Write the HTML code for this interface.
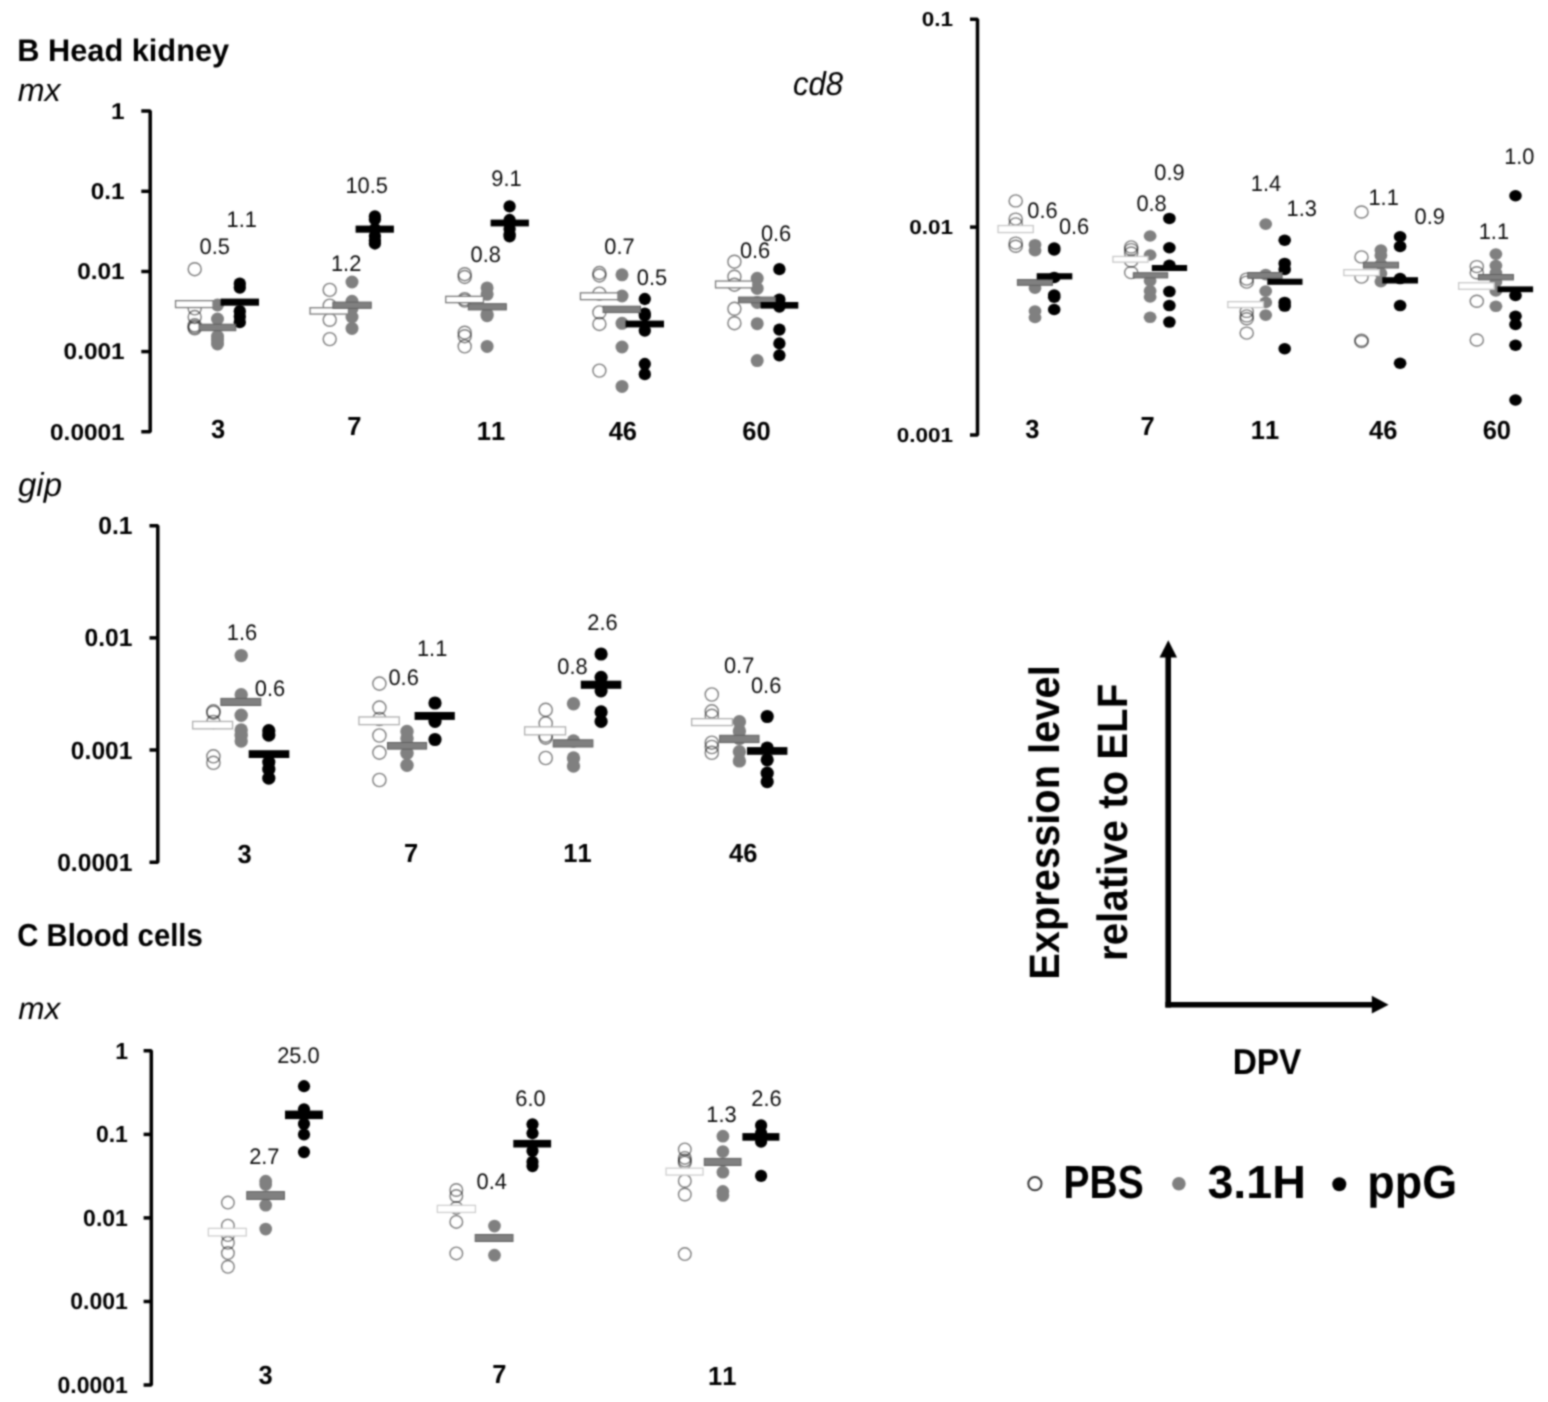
<!DOCTYPE html>
<html><head><meta charset="utf-8"><title>Figure</title>
<style>
html,body{margin:0;padding:0;background:#fff;}
body{width:1548px;height:1402px;overflow:hidden;}
svg{display:block;}
#fig{position:absolute;left:0;top:0;width:1548px;height:1402px;}
text{font-family:"Liberation Sans",Arial,sans-serif;font-kerning:none;text-rendering:geometricPrecision;}
</style></head><body>
<div id="fig"><svg width="1548" height="1402" viewBox="0 0 1548 1402">
<defs><filter id="soft" color-interpolation-filters="sRGB" x="0" y="0" width="1548" height="1402" filterUnits="userSpaceOnUse"><feConvolveMatrix order="5" kernelMatrix="0.00048 0.00501 0.01095 0.00501 0.00048 0.00501 0.05222 0.11405 0.05222 0.00501 0.01095 0.11405 0.24912 0.11405 0.01095 0.00501 0.05222 0.11405 0.05222 0.00501 0.00048 0.00501 0.01095 0.00501 0.00048" divisor="1" edgeMode="duplicate" preserveAlpha="true"/></filter></defs>
<g filter="url(#soft)">
<rect width="1548" height="1402" fill="#fff"/>
<path d="M141.3,111.0 H150.2 V431.7 H141.3" fill="none" stroke="#000" stroke-width="3.5" stroke-linejoin="bevel"/>
<line x1="141.3" y1="191.3" x2="150.2" y2="191.3" stroke="#000" stroke-width="3.5"/>
<line x1="141.3" y1="271.5" x2="150.2" y2="271.5" stroke="#000" stroke-width="3.5"/>
<line x1="141.3" y1="351.6" x2="150.2" y2="351.6" stroke="#000" stroke-width="3.5"/>
<text transform="translate(111.11,118.87) scale(1.0666,1)" font-size="22.88" font-weight="bold" font-style="normal" fill="#000">1</text>
<text transform="translate(90.75,199.18) scale(1.0666,1)" font-size="22.88" font-weight="bold" font-style="normal" fill="#000">0.1</text>
<text transform="translate(77.18,279.38) scale(1.0666,1)" font-size="22.88" font-weight="bold" font-style="normal" fill="#000">0.01</text>
<text transform="translate(63.61,359.48) scale(1.0666,1)" font-size="22.88" font-weight="bold" font-style="normal" fill="#000">0.001</text>
<text transform="translate(50.03,439.58) scale(1.0666,1)" font-size="22.88" font-weight="bold" font-style="normal" fill="#000">0.0001</text>
<circle cx="194.7" cy="269.2" r="6.50" fill="none" stroke="#000000" stroke-opacity="0.5" stroke-width="1.4"/>
<circle cx="194.7" cy="308.4" r="6.50" fill="none" stroke="#000000" stroke-opacity="0.5" stroke-width="1.4"/>
<circle cx="194.7" cy="317" r="6.50" fill="none" stroke="#000000" stroke-opacity="0.5" stroke-width="1.4"/>
<circle cx="194.7" cy="325.3" r="6.50" fill="none" stroke="#000000" stroke-opacity="0.5" stroke-width="1.4"/>
<circle cx="194.7" cy="327" r="6.50" fill="none" stroke="#000000" stroke-opacity="0.5" stroke-width="1.4"/>
<circle cx="194.7" cy="328.4" r="6.50" fill="none" stroke="#000000" stroke-opacity="0.5" stroke-width="1.4"/>
<circle cx="217.5" cy="305" r="6.50" fill="#808080"/>
<circle cx="217.5" cy="319" r="6.50" fill="#808080"/>
<circle cx="217.5" cy="336.3" r="6.50" fill="#808080"/>
<circle cx="217.5" cy="340" r="6.50" fill="#808080"/>
<circle cx="217.5" cy="344" r="6.50" fill="#808080"/>
<circle cx="239.8" cy="283.7" r="6.15" fill="#000"/>
<circle cx="239.8" cy="287.6" r="6.15" fill="#000"/>
<circle cx="239.8" cy="311.2" r="6.15" fill="#000"/>
<circle cx="239.8" cy="316.5" r="6.15" fill="#000"/>
<circle cx="239.8" cy="322.2" r="6.15" fill="#000"/>
<rect x="175.55" y="300.65" width="37.50" height="6.90" fill="#fff" stroke="#7c7c7c" stroke-width="1.3"/>
<rect x="199.10" y="324.20" width="36.70" height="6.50" fill="#808080" stroke="#606060" stroke-width="1"/>
<rect x="220.60" y="298.60" width="38.40" height="7.10" fill="#000"/>
<text transform="translate(199.56,253.70) scale(0.9700,1)" font-size="22.50" font-weight="normal" font-style="normal" fill="#0d0d0d">0.5</text>
<text transform="translate(226.53,227.30) scale(0.9700,1)" font-size="22.50" font-weight="normal" font-style="normal" fill="#0d0d0d">1.1</text>
<circle cx="329.7" cy="289.9" r="6.50" fill="none" stroke="#000000" stroke-opacity="0.5" stroke-width="1.4"/>
<circle cx="329.7" cy="305.6" r="6.50" fill="none" stroke="#000000" stroke-opacity="0.5" stroke-width="1.4"/>
<circle cx="329.7" cy="319.8" r="6.50" fill="none" stroke="#000000" stroke-opacity="0.5" stroke-width="1.4"/>
<circle cx="329.7" cy="339.1" r="6.50" fill="none" stroke="#000000" stroke-opacity="0.5" stroke-width="1.4"/>
<circle cx="352" cy="282" r="6.50" fill="#808080"/>
<circle cx="352" cy="301.3" r="6.50" fill="#808080"/>
<circle cx="352" cy="308.4" r="6.50" fill="#808080"/>
<circle cx="352" cy="317" r="6.50" fill="#808080"/>
<circle cx="352" cy="328.4" r="6.50" fill="#808080"/>
<circle cx="374.9" cy="216.4" r="6.15" fill="#000"/>
<circle cx="374.9" cy="219.2" r="6.15" fill="#000"/>
<circle cx="374.9" cy="229" r="6.15" fill="#000"/>
<circle cx="374.9" cy="236" r="6.15" fill="#000"/>
<circle cx="374.9" cy="240.6" r="6.15" fill="#000"/>
<circle cx="374.9" cy="243.5" r="6.15" fill="#000"/>
<rect x="310.05" y="307.75" width="38.40" height="6.30" fill="#fff" stroke="#7c7c7c" stroke-width="1.3"/>
<rect x="332.90" y="302.10" width="38.30" height="6.20" fill="#808080" stroke="#606060" stroke-width="1"/>
<rect x="355.60" y="225.60" width="38.30" height="7.10" fill="#000"/>
<text transform="translate(345.39,192.80) scale(0.9700,1)" font-size="22.50" font-weight="normal" font-style="normal" fill="#0d0d0d">10.5</text>
<text transform="translate(330.95,270.80) scale(0.9700,1)" font-size="22.50" font-weight="normal" font-style="normal" fill="#0d0d0d">1.2</text>
<circle cx="464.7" cy="274.2" r="6.50" fill="none" stroke="#000000" stroke-opacity="0.5" stroke-width="1.4"/>
<circle cx="464.7" cy="277" r="6.50" fill="none" stroke="#000000" stroke-opacity="0.5" stroke-width="1.4"/>
<circle cx="464.7" cy="299.1" r="6.50" fill="none" stroke="#000000" stroke-opacity="0.5" stroke-width="1.4"/>
<circle cx="464.7" cy="300.6" r="6.50" fill="none" stroke="#000000" stroke-opacity="0.5" stroke-width="1.4"/>
<circle cx="464.7" cy="332.7" r="6.50" fill="none" stroke="#000000" stroke-opacity="0.5" stroke-width="1.4"/>
<circle cx="464.7" cy="336.2" r="6.50" fill="none" stroke="#000000" stroke-opacity="0.5" stroke-width="1.4"/>
<circle cx="464.7" cy="346.4" r="6.50" fill="none" stroke="#000000" stroke-opacity="0.5" stroke-width="1.4"/>
<circle cx="487.1" cy="287.9" r="6.50" fill="#808080"/>
<circle cx="487.1" cy="294.3" r="6.50" fill="#808080"/>
<circle cx="487.1" cy="314.3" r="6.50" fill="#808080"/>
<circle cx="487.1" cy="315.7" r="6.50" fill="#808080"/>
<circle cx="487.1" cy="346.4" r="6.50" fill="#808080"/>
<circle cx="509.6" cy="206.4" r="6.15" fill="#000"/>
<circle cx="509.6" cy="220" r="6.15" fill="#000"/>
<circle cx="509.6" cy="222.8" r="6.15" fill="#000"/>
<circle cx="509.6" cy="229" r="6.15" fill="#000"/>
<circle cx="509.6" cy="234.3" r="6.15" fill="#000"/>
<circle cx="509.6" cy="236.4" r="6.15" fill="#000"/>
<rect x="445.75" y="296.35" width="37.70" height="6.30" fill="#fff" stroke="#7c7c7c" stroke-width="1.3"/>
<rect x="468.30" y="303.70" width="38.00" height="6.20" fill="#808080" stroke="#606060" stroke-width="1"/>
<rect x="490.60" y="219.60" width="38.30" height="6.80" fill="#000"/>
<text transform="translate(491.25,186.20) scale(0.9700,1)" font-size="22.50" font-weight="normal" font-style="normal" fill="#0d0d0d">9.1</text>
<text transform="translate(470.58,261.80) scale(0.9700,1)" font-size="22.50" font-weight="normal" font-style="normal" fill="#0d0d0d">0.8</text>
<circle cx="599.4" cy="273" r="6.50" fill="none" stroke="#000000" stroke-opacity="0.5" stroke-width="1.4"/>
<circle cx="599.4" cy="275.5" r="6.50" fill="none" stroke="#000000" stroke-opacity="0.5" stroke-width="1.4"/>
<circle cx="599.4" cy="293.6" r="6.50" fill="none" stroke="#000000" stroke-opacity="0.5" stroke-width="1.4"/>
<circle cx="599.4" cy="312.4" r="6.50" fill="none" stroke="#000000" stroke-opacity="0.5" stroke-width="1.4"/>
<circle cx="599.4" cy="324" r="6.50" fill="none" stroke="#000000" stroke-opacity="0.5" stroke-width="1.4"/>
<circle cx="599.4" cy="370.6" r="6.50" fill="none" stroke="#000000" stroke-opacity="0.5" stroke-width="1.4"/>
<circle cx="622" cy="274.8" r="6.50" fill="#808080"/>
<circle cx="622" cy="296" r="6.50" fill="#808080"/>
<circle cx="622" cy="323.3" r="6.50" fill="#808080"/>
<circle cx="622" cy="347" r="6.50" fill="#808080"/>
<circle cx="622" cy="386.4" r="6.50" fill="#808080"/>
<circle cx="644.8" cy="299" r="6.15" fill="#000"/>
<circle cx="644.8" cy="313.6" r="6.15" fill="#000"/>
<circle cx="644.8" cy="315.5" r="6.15" fill="#000"/>
<circle cx="644.8" cy="330.6" r="6.15" fill="#000"/>
<circle cx="644.8" cy="364" r="6.15" fill="#000"/>
<circle cx="644.8" cy="374.2" r="6.15" fill="#000"/>
<rect x="580.45" y="292.85" width="37.50" height="6.80" fill="#fff" stroke="#7c7c7c" stroke-width="1.3"/>
<rect x="603.10" y="306.20" width="37.40" height="6.40" fill="#808080" stroke="#606060" stroke-width="1"/>
<rect x="625.60" y="320.60" width="38.40" height="6.80" fill="#000"/>
<text transform="translate(604.35,254.10) scale(0.9700,1)" font-size="22.50" font-weight="normal" font-style="normal" fill="#0d0d0d">0.7</text>
<text transform="translate(636.86,285.30) scale(0.9700,1)" font-size="22.50" font-weight="normal" font-style="normal" fill="#0d0d0d">0.5</text>
<circle cx="734.4" cy="261.7" r="6.50" fill="none" stroke="#000000" stroke-opacity="0.5" stroke-width="1.4"/>
<circle cx="734.4" cy="276.7" r="6.50" fill="none" stroke="#000000" stroke-opacity="0.5" stroke-width="1.4"/>
<circle cx="734.4" cy="284.7" r="6.50" fill="none" stroke="#000000" stroke-opacity="0.5" stroke-width="1.4"/>
<circle cx="734.4" cy="308.8" r="6.50" fill="none" stroke="#000000" stroke-opacity="0.5" stroke-width="1.4"/>
<circle cx="734.4" cy="323.2" r="6.50" fill="none" stroke="#000000" stroke-opacity="0.5" stroke-width="1.4"/>
<circle cx="757.2" cy="278.3" r="6.50" fill="#808080"/>
<circle cx="757.2" cy="288.4" r="6.50" fill="#808080"/>
<circle cx="757.2" cy="302.4" r="6.50" fill="#808080"/>
<circle cx="757.2" cy="323.7" r="6.50" fill="#808080"/>
<circle cx="757.2" cy="360.6" r="6.50" fill="#808080"/>
<circle cx="779.4" cy="269.2" r="6.15" fill="#000"/>
<circle cx="779.4" cy="299.7" r="6.15" fill="#000"/>
<circle cx="779.4" cy="306.6" r="6.15" fill="#000"/>
<circle cx="779.4" cy="329.6" r="6.15" fill="#000"/>
<circle cx="779.4" cy="343.5" r="6.15" fill="#000"/>
<circle cx="779.4" cy="355.3" r="6.15" fill="#000"/>
<rect x="715.55" y="281.05" width="37.30" height="6.80" fill="#fff" stroke="#7c7c7c" stroke-width="1.3"/>
<rect x="738.60" y="297.10" width="36.70" height="5.70" fill="#808080" stroke="#606060" stroke-width="1"/>
<rect x="760.60" y="302.00" width="37.70" height="6.60" fill="#000"/>
<text transform="translate(739.88,258.20) scale(0.9700,1)" font-size="22.50" font-weight="normal" font-style="normal" fill="#0d0d0d">0.6</text>
<text transform="translate(760.88,240.60) scale(0.9700,1)" font-size="22.50" font-weight="normal" font-style="normal" fill="#0d0d0d">0.6</text>
<text transform="translate(211.07,438.30) scale(0.9700,1)" font-size="26.30" font-weight="bold" font-style="normal" fill="#000">3</text>
<text transform="translate(347.22,435.40) scale(0.9700,1)" font-size="26.30" font-weight="bold" font-style="normal" fill="#000">7</text>
<text transform="translate(476.76,439.90) scale(0.9700,1)" font-size="26.30" font-weight="bold" font-style="normal" fill="#000">11</text>
<text transform="translate(608.68,439.90) scale(0.9700,1)" font-size="26.30" font-weight="bold" font-style="normal" fill="#000">46</text>
<text transform="translate(742.37,439.90) scale(0.9700,1)" font-size="26.30" font-weight="bold" font-style="normal" fill="#000">60</text>
<path d="M970.0,19.2 H977.5 V434.9 H970.0" fill="none" stroke="#000" stroke-width="3.5" stroke-linejoin="bevel"/>
<line x1="970.0" y1="227.1" x2="977.5" y2="227.1" stroke="#000" stroke-width="3.5"/>
<text transform="translate(921.84,26.15) scale(1.1142,1)" font-size="20.20" font-weight="bold" font-style="normal" fill="#000">0.1</text>
<text transform="translate(909.33,234.05) scale(1.1142,1)" font-size="20.20" font-weight="bold" font-style="normal" fill="#000">0.01</text>
<text transform="translate(896.81,441.85) scale(1.1142,1)" font-size="20.20" font-weight="bold" font-style="normal" fill="#000">0.001</text>
<ellipse cx="1015.7" cy="200.9" rx="6.60" ry="6.01" fill="none" stroke="#000000" stroke-opacity="0.5" stroke-width="1.4"/>
<ellipse cx="1015.7" cy="219.1" rx="6.60" ry="6.01" fill="none" stroke="#000000" stroke-opacity="0.5" stroke-width="1.4"/>
<ellipse cx="1015.7" cy="223.9" rx="6.60" ry="6.01" fill="none" stroke="#000000" stroke-opacity="0.5" stroke-width="1.4"/>
<ellipse cx="1015.7" cy="243.1" rx="6.60" ry="6.01" fill="none" stroke="#000000" stroke-opacity="0.5" stroke-width="1.4"/>
<ellipse cx="1015.7" cy="246.3" rx="6.60" ry="6.01" fill="none" stroke="#000000" stroke-opacity="0.5" stroke-width="1.4"/>
<ellipse cx="1035" cy="244.7" rx="6.40" ry="5.82" fill="#808080"/>
<ellipse cx="1035" cy="250.6" rx="6.40" ry="5.82" fill="#808080"/>
<ellipse cx="1035" cy="288.1" rx="6.40" ry="5.82" fill="#808080"/>
<ellipse cx="1035" cy="311.1" rx="6.40" ry="5.82" fill="#808080"/>
<ellipse cx="1035" cy="317.5" rx="6.40" ry="5.82" fill="#808080"/>
<ellipse cx="1054.2" cy="248" rx="6.30" ry="5.73" fill="#000"/>
<ellipse cx="1054.2" cy="250" rx="6.30" ry="5.73" fill="#000"/>
<ellipse cx="1054.2" cy="277.4" rx="6.30" ry="5.73" fill="#000"/>
<ellipse cx="1054.2" cy="295" rx="6.30" ry="5.73" fill="#000"/>
<ellipse cx="1054.2" cy="297.2" rx="6.30" ry="5.73" fill="#000"/>
<ellipse cx="1054.2" cy="309.5" rx="6.30" ry="5.73" fill="#000"/>
<rect x="998.05" y="225.55" width="35.20" height="7.00" fill="#fff" stroke="#c8c8c8" stroke-width="1.3"/>
<rect x="1017.40" y="279.60" width="35.10" height="5.70" fill="#808080" stroke="#606060" stroke-width="1"/>
<rect x="1036.70" y="273.20" width="35.60" height="6.20" fill="#000"/>
<text transform="translate(1027.28,218.30) scale(0.9700,1)" font-size="22.50" font-weight="normal" font-style="normal" fill="#0d0d0d">0.6</text>
<text transform="translate(1058.88,234.30) scale(0.9700,1)" font-size="22.50" font-weight="normal" font-style="normal" fill="#0d0d0d">0.6</text>
<ellipse cx="1131.2" cy="246.9" rx="6.60" ry="6.01" fill="none" stroke="#000000" stroke-opacity="0.5" stroke-width="1.4"/>
<ellipse cx="1131.2" cy="249.6" rx="6.60" ry="6.01" fill="none" stroke="#000000" stroke-opacity="0.5" stroke-width="1.4"/>
<ellipse cx="1131.2" cy="253" rx="6.60" ry="6.01" fill="none" stroke="#000000" stroke-opacity="0.5" stroke-width="1.4"/>
<ellipse cx="1131.2" cy="261" rx="6.60" ry="6.01" fill="none" stroke="#000000" stroke-opacity="0.5" stroke-width="1.4"/>
<ellipse cx="1131.2" cy="272.6" rx="6.60" ry="6.01" fill="none" stroke="#000000" stroke-opacity="0.5" stroke-width="1.4"/>
<ellipse cx="1150.1" cy="236" rx="6.40" ry="5.82" fill="#808080"/>
<ellipse cx="1150.1" cy="255" rx="6.40" ry="5.82" fill="#808080"/>
<ellipse cx="1150.1" cy="280.8" rx="6.40" ry="5.82" fill="#808080"/>
<ellipse cx="1150.1" cy="290.9" rx="6.40" ry="5.82" fill="#808080"/>
<ellipse cx="1150.1" cy="297" rx="6.40" ry="5.82" fill="#808080"/>
<ellipse cx="1150.1" cy="317.3" rx="6.40" ry="5.82" fill="#808080"/>
<ellipse cx="1169.4" cy="218.4" rx="6.30" ry="5.73" fill="#000"/>
<ellipse cx="1169.4" cy="247.8" rx="6.30" ry="5.73" fill="#000"/>
<ellipse cx="1169.4" cy="265.2" rx="6.30" ry="5.73" fill="#000"/>
<ellipse cx="1169.4" cy="291.6" rx="6.30" ry="5.73" fill="#000"/>
<ellipse cx="1169.4" cy="305.6" rx="6.30" ry="5.73" fill="#000"/>
<ellipse cx="1169.4" cy="322.1" rx="6.30" ry="5.73" fill="#000"/>
<rect x="1112.95" y="256.45" width="35.10" height="5.70" fill="#fff" stroke="#c8c8c8" stroke-width="1.3"/>
<rect x="1133.30" y="272.70" width="34.40" height="5.20" fill="#808080" stroke="#606060" stroke-width="1"/>
<rect x="1151.80" y="265.00" width="35.30" height="6.00" fill="#000"/>
<text transform="translate(1154.32,179.90) scale(0.9700,1)" font-size="22.50" font-weight="normal" font-style="normal" fill="#0d0d0d">0.9</text>
<text transform="translate(1136.38,211.10) scale(0.9700,1)" font-size="22.50" font-weight="normal" font-style="normal" fill="#0d0d0d">0.8</text>
<ellipse cx="1246.7" cy="279.1" rx="6.60" ry="6.01" fill="none" stroke="#000000" stroke-opacity="0.5" stroke-width="1.4"/>
<ellipse cx="1246.7" cy="282.1" rx="6.60" ry="6.01" fill="none" stroke="#000000" stroke-opacity="0.5" stroke-width="1.4"/>
<ellipse cx="1246.7" cy="311.4" rx="6.60" ry="6.01" fill="none" stroke="#000000" stroke-opacity="0.5" stroke-width="1.4"/>
<ellipse cx="1246.7" cy="315.9" rx="6.60" ry="6.01" fill="none" stroke="#000000" stroke-opacity="0.5" stroke-width="1.4"/>
<ellipse cx="1246.7" cy="318.8" rx="6.60" ry="6.01" fill="none" stroke="#000000" stroke-opacity="0.5" stroke-width="1.4"/>
<ellipse cx="1246.7" cy="333.1" rx="6.60" ry="6.01" fill="none" stroke="#000000" stroke-opacity="0.5" stroke-width="1.4"/>
<ellipse cx="1265.7" cy="224.1" rx="6.40" ry="5.82" fill="#808080"/>
<ellipse cx="1265.7" cy="274.6" rx="6.40" ry="5.82" fill="#808080"/>
<ellipse cx="1265.7" cy="291.1" rx="6.40" ry="5.82" fill="#808080"/>
<ellipse cx="1265.7" cy="302.4" rx="6.40" ry="5.82" fill="#808080"/>
<ellipse cx="1265.7" cy="315.1" rx="6.40" ry="5.82" fill="#808080"/>
<ellipse cx="1284.7" cy="240.2" rx="6.30" ry="5.73" fill="#000"/>
<ellipse cx="1284.7" cy="263.4" rx="6.30" ry="5.73" fill="#000"/>
<ellipse cx="1284.7" cy="269.4" rx="6.30" ry="5.73" fill="#000"/>
<ellipse cx="1284.7" cy="302.4" rx="6.30" ry="5.73" fill="#000"/>
<ellipse cx="1284.7" cy="306.1" rx="6.30" ry="5.73" fill="#000"/>
<ellipse cx="1284.7" cy="348.8" rx="6.30" ry="5.73" fill="#000"/>
<rect x="1227.85" y="301.65" width="35.60" height="5.90" fill="#fff" stroke="#c8c8c8" stroke-width="1.3"/>
<rect x="1247.80" y="272.50" width="34.30" height="5.80" fill="#808080" stroke="#606060" stroke-width="1"/>
<rect x="1267.30" y="278.70" width="35.20" height="6.10" fill="#000"/>
<text transform="translate(1250.82,190.50) scale(0.9700,1)" font-size="22.50" font-weight="normal" font-style="normal" fill="#0d0d0d">1.4</text>
<text transform="translate(1286.58,215.50) scale(0.9700,1)" font-size="22.50" font-weight="normal" font-style="normal" fill="#0d0d0d">1.3</text>
<ellipse cx="1361.5" cy="212" rx="6.60" ry="6.01" fill="none" stroke="#000000" stroke-opacity="0.5" stroke-width="1.4"/>
<ellipse cx="1361.5" cy="256.9" rx="6.60" ry="6.01" fill="none" stroke="#000000" stroke-opacity="0.5" stroke-width="1.4"/>
<ellipse cx="1361.5" cy="277.1" rx="6.60" ry="6.01" fill="none" stroke="#000000" stroke-opacity="0.5" stroke-width="1.4"/>
<ellipse cx="1361.5" cy="340.3" rx="6.60" ry="6.01" fill="none" stroke="#000000" stroke-opacity="0.5" stroke-width="1.4"/>
<ellipse cx="1361.5" cy="341.6" rx="6.60" ry="6.01" fill="none" stroke="#000000" stroke-opacity="0.5" stroke-width="1.4"/>
<ellipse cx="1380.9" cy="250.1" rx="6.40" ry="5.82" fill="#808080"/>
<ellipse cx="1380.9" cy="255.4" rx="6.40" ry="5.82" fill="#808080"/>
<ellipse cx="1380.9" cy="264" rx="6.40" ry="5.82" fill="#808080"/>
<ellipse cx="1380.9" cy="273.4" rx="6.40" ry="5.82" fill="#808080"/>
<ellipse cx="1380.9" cy="281.6" rx="6.40" ry="5.82" fill="#808080"/>
<ellipse cx="1400.1" cy="236.7" rx="6.30" ry="5.73" fill="#000"/>
<ellipse cx="1400.1" cy="246.4" rx="6.30" ry="5.73" fill="#000"/>
<ellipse cx="1400.1" cy="278.6" rx="6.30" ry="5.73" fill="#000"/>
<ellipse cx="1400.1" cy="305.6" rx="6.30" ry="5.73" fill="#000"/>
<ellipse cx="1400.1" cy="363.3" rx="6.30" ry="5.73" fill="#000"/>
<rect x="1343.85" y="269.65" width="35.50" height="5.90" fill="#fff" stroke="#c8c8c8" stroke-width="1.3"/>
<rect x="1363.40" y="262.20" width="35.10" height="5.80" fill="#808080" stroke="#606060" stroke-width="1"/>
<rect x="1382.30" y="277.20" width="35.70" height="6.30" fill="#000"/>
<text transform="translate(1368.43,205.00) scale(0.9700,1)" font-size="22.50" font-weight="normal" font-style="normal" fill="#0d0d0d">1.1</text>
<text transform="translate(1414.52,224.00) scale(0.9700,1)" font-size="22.50" font-weight="normal" font-style="normal" fill="#0d0d0d">0.9</text>
<ellipse cx="1476.8" cy="266.6" rx="6.60" ry="6.01" fill="none" stroke="#000000" stroke-opacity="0.5" stroke-width="1.4"/>
<ellipse cx="1476.8" cy="272.8" rx="6.60" ry="6.01" fill="none" stroke="#000000" stroke-opacity="0.5" stroke-width="1.4"/>
<ellipse cx="1476.8" cy="301.3" rx="6.60" ry="6.01" fill="none" stroke="#000000" stroke-opacity="0.5" stroke-width="1.4"/>
<ellipse cx="1476.8" cy="340" rx="6.60" ry="6.01" fill="none" stroke="#000000" stroke-opacity="0.5" stroke-width="1.4"/>
<ellipse cx="1495.9" cy="254.1" rx="6.40" ry="5.82" fill="#808080"/>
<ellipse cx="1495.9" cy="265.5" rx="6.40" ry="5.82" fill="#808080"/>
<ellipse cx="1495.9" cy="272.8" rx="6.40" ry="5.82" fill="#808080"/>
<ellipse cx="1495.9" cy="282" rx="6.40" ry="5.82" fill="#808080"/>
<ellipse cx="1495.9" cy="291" rx="6.40" ry="5.82" fill="#808080"/>
<ellipse cx="1495.9" cy="306.3" rx="6.40" ry="5.82" fill="#808080"/>
<ellipse cx="1515.5" cy="195.8" rx="6.30" ry="5.73" fill="#000"/>
<ellipse cx="1515.5" cy="295.5" rx="6.30" ry="5.73" fill="#000"/>
<ellipse cx="1515.5" cy="316.2" rx="6.30" ry="5.73" fill="#000"/>
<ellipse cx="1515.5" cy="324.5" rx="6.30" ry="5.73" fill="#000"/>
<ellipse cx="1515.5" cy="345.2" rx="6.30" ry="5.73" fill="#000"/>
<ellipse cx="1515.5" cy="400" rx="6.30" ry="5.73" fill="#000"/>
<rect x="1458.65" y="282.75" width="35.50" height="6.50" fill="#fff" stroke="#c8c8c8" stroke-width="1.3"/>
<rect x="1478.40" y="274.50" width="35.00" height="5.40" fill="#808080" stroke="#606060" stroke-width="1"/>
<rect x="1497.50" y="286.40" width="35.60" height="5.80" fill="#000"/>
<text transform="translate(1504.13,163.50) scale(0.9700,1)" font-size="22.50" font-weight="normal" font-style="normal" fill="#0d0d0d">1.0</text>
<text transform="translate(1478.73,239.40) scale(0.9700,1)" font-size="22.50" font-weight="normal" font-style="normal" fill="#0d0d0d">1.1</text>
<text transform="translate(1025.27,438.20) scale(0.9700,1)" font-size="26.30" font-weight="bold" font-style="normal" fill="#000">3</text>
<text transform="translate(1140.42,435.40) scale(0.9700,1)" font-size="26.30" font-weight="bold" font-style="normal" fill="#000">7</text>
<text transform="translate(1250.86,438.90) scale(0.9700,1)" font-size="26.30" font-weight="bold" font-style="normal" fill="#000">11</text>
<text transform="translate(1369.08,438.90) scale(0.9700,1)" font-size="26.30" font-weight="bold" font-style="normal" fill="#000">46</text>
<text transform="translate(1482.67,438.90) scale(0.9700,1)" font-size="26.30" font-weight="bold" font-style="normal" fill="#000">60</text>
<path d="M149.5,525.7 H157.8 V862.2 H149.5" fill="none" stroke="#000" stroke-width="3.5" stroke-linejoin="bevel"/>
<line x1="149.5" y1="637.9" x2="157.8" y2="637.9" stroke="#000" stroke-width="3.5"/>
<line x1="149.5" y1="750.0" x2="157.8" y2="750.0" stroke="#000" stroke-width="3.5"/>
<text transform="translate(98.23,534.26) scale(0.9912,1)" font-size="24.86" font-weight="bold" font-style="normal" fill="#000">0.1</text>
<text transform="translate(84.53,646.46) scale(0.9912,1)" font-size="24.86" font-weight="bold" font-style="normal" fill="#000">0.01</text>
<text transform="translate(70.83,758.56) scale(0.9912,1)" font-size="24.86" font-weight="bold" font-style="normal" fill="#000">0.001</text>
<text transform="translate(57.13,870.76) scale(0.9912,1)" font-size="24.86" font-weight="bold" font-style="normal" fill="#000">0.0001</text>
<circle cx="213.4" cy="711.4" r="6.60" fill="none" stroke="#000000" stroke-opacity="0.5" stroke-width="1.4"/>
<circle cx="213.4" cy="712.7" r="6.60" fill="none" stroke="#000000" stroke-opacity="0.5" stroke-width="1.4"/>
<circle cx="213.4" cy="722" r="6.60" fill="none" stroke="#000000" stroke-opacity="0.5" stroke-width="1.4"/>
<circle cx="213.4" cy="756.3" r="6.60" fill="none" stroke="#000000" stroke-opacity="0.5" stroke-width="1.4"/>
<circle cx="213.4" cy="762.8" r="6.60" fill="none" stroke="#000000" stroke-opacity="0.5" stroke-width="1.4"/>
<circle cx="241.2" cy="655.6" r="6.70" fill="#808080"/>
<circle cx="241.2" cy="694.7" r="6.70" fill="#808080"/>
<circle cx="241.2" cy="715.3" r="6.70" fill="#808080"/>
<circle cx="241.2" cy="730" r="6.70" fill="#808080"/>
<circle cx="241.2" cy="735.2" r="6.70" fill="#808080"/>
<circle cx="241.2" cy="741" r="6.70" fill="#808080"/>
<circle cx="268.8" cy="730.7" r="6.60" fill="#000"/>
<circle cx="268.8" cy="735.2" r="6.60" fill="#000"/>
<circle cx="268.8" cy="762.1" r="6.60" fill="#000"/>
<circle cx="268.8" cy="769.2" r="6.60" fill="#000"/>
<circle cx="268.8" cy="778.2" r="6.60" fill="#000"/>
<rect x="192.65" y="721.45" width="39.90" height="7.40" fill="#fff" stroke="#b0b0b0" stroke-width="1.3"/>
<rect x="220.90" y="698.40" width="39.90" height="7.10" fill="#808080" stroke="#606060" stroke-width="1"/>
<rect x="248.70" y="750.20" width="40.60" height="7.80" fill="#000"/>
<text transform="translate(226.78,639.70) scale(0.9700,1)" font-size="22.50" font-weight="normal" font-style="normal" fill="#0d0d0d">1.6</text>
<text transform="translate(254.78,696.20) scale(0.9700,1)" font-size="22.50" font-weight="normal" font-style="normal" fill="#0d0d0d">0.6</text>
<circle cx="379.4" cy="683.6" r="6.60" fill="none" stroke="#000000" stroke-opacity="0.5" stroke-width="1.4"/>
<circle cx="379.4" cy="707.6" r="6.60" fill="none" stroke="#000000" stroke-opacity="0.5" stroke-width="1.4"/>
<circle cx="379.4" cy="719" r="6.60" fill="none" stroke="#000000" stroke-opacity="0.5" stroke-width="1.4"/>
<circle cx="379.4" cy="735.5" r="6.60" fill="none" stroke="#000000" stroke-opacity="0.5" stroke-width="1.4"/>
<circle cx="379.4" cy="752.6" r="6.60" fill="none" stroke="#000000" stroke-opacity="0.5" stroke-width="1.4"/>
<circle cx="379.4" cy="780" r="6.60" fill="none" stroke="#000000" stroke-opacity="0.5" stroke-width="1.4"/>
<circle cx="407" cy="731.5" r="6.70" fill="#808080"/>
<circle cx="407" cy="738.4" r="6.70" fill="#808080"/>
<circle cx="407" cy="753.2" r="6.70" fill="#808080"/>
<circle cx="407" cy="765.2" r="6.70" fill="#808080"/>
<circle cx="435" cy="703" r="6.60" fill="#000"/>
<circle cx="435" cy="721.3" r="6.60" fill="#000"/>
<circle cx="435" cy="739.5" r="6.60" fill="#000"/>
<rect x="358.95" y="716.95" width="40.30" height="7.70" fill="#fff" stroke="#b0b0b0" stroke-width="1.3"/>
<rect x="387.50" y="742.50" width="39.10" height="6.60" fill="#808080" stroke="#606060" stroke-width="1"/>
<rect x="414.60" y="712.00" width="40.20" height="7.90" fill="#000"/>
<text transform="translate(416.93,656.10) scale(0.9700,1)" font-size="22.50" font-weight="normal" font-style="normal" fill="#0d0d0d">1.1</text>
<text transform="translate(388.48,685.30) scale(0.9700,1)" font-size="22.50" font-weight="normal" font-style="normal" fill="#0d0d0d">0.6</text>
<circle cx="545.7" cy="709.8" r="6.60" fill="none" stroke="#000000" stroke-opacity="0.5" stroke-width="1.4"/>
<circle cx="545.7" cy="723.4" r="6.60" fill="none" stroke="#000000" stroke-opacity="0.5" stroke-width="1.4"/>
<circle cx="545.7" cy="735.6" r="6.60" fill="none" stroke="#000000" stroke-opacity="0.5" stroke-width="1.4"/>
<circle cx="545.7" cy="737.6" r="6.60" fill="none" stroke="#000000" stroke-opacity="0.5" stroke-width="1.4"/>
<circle cx="545.7" cy="758" r="6.60" fill="none" stroke="#000000" stroke-opacity="0.5" stroke-width="1.4"/>
<circle cx="573.5" cy="703.7" r="6.70" fill="#808080"/>
<circle cx="573.5" cy="741" r="6.70" fill="#808080"/>
<circle cx="573.5" cy="758" r="6.70" fill="#808080"/>
<circle cx="573.5" cy="766.1" r="6.70" fill="#808080"/>
<circle cx="601.1" cy="654" r="6.60" fill="#000"/>
<circle cx="601.1" cy="677.3" r="6.60" fill="#000"/>
<circle cx="601.1" cy="690.8" r="6.60" fill="#000"/>
<circle cx="601.1" cy="711.9" r="6.60" fill="#000"/>
<circle cx="601.1" cy="721.4" r="6.60" fill="#000"/>
<rect x="524.65" y="726.85" width="40.90" height="8.00" fill="#fff" stroke="#b0b0b0" stroke-width="1.3"/>
<rect x="553.20" y="739.80" width="39.70" height="7.20" fill="#808080" stroke="#606060" stroke-width="1"/>
<rect x="580.80" y="680.70" width="40.50" height="8.10" fill="#000"/>
<text transform="translate(587.26,629.50) scale(0.9700,1)" font-size="22.50" font-weight="normal" font-style="normal" fill="#0d0d0d">2.6</text>
<text transform="translate(557.28,674.00) scale(0.9700,1)" font-size="22.50" font-weight="normal" font-style="normal" fill="#0d0d0d">0.8</text>
<circle cx="711.8" cy="694.5" r="6.60" fill="none" stroke="#000000" stroke-opacity="0.5" stroke-width="1.4"/>
<circle cx="711.8" cy="711.4" r="6.60" fill="none" stroke="#000000" stroke-opacity="0.5" stroke-width="1.4"/>
<circle cx="711.8" cy="715.9" r="6.60" fill="none" stroke="#000000" stroke-opacity="0.5" stroke-width="1.4"/>
<circle cx="711.8" cy="742.7" r="6.60" fill="none" stroke="#000000" stroke-opacity="0.5" stroke-width="1.4"/>
<circle cx="711.8" cy="747" r="6.60" fill="none" stroke="#000000" stroke-opacity="0.5" stroke-width="1.4"/>
<circle cx="711.8" cy="752.8" r="6.60" fill="none" stroke="#000000" stroke-opacity="0.5" stroke-width="1.4"/>
<circle cx="739.4" cy="721.8" r="6.70" fill="#808080"/>
<circle cx="739.4" cy="730.9" r="6.70" fill="#808080"/>
<circle cx="739.4" cy="738.4" r="6.70" fill="#808080"/>
<circle cx="739.4" cy="751.8" r="6.70" fill="#808080"/>
<circle cx="739.4" cy="760.9" r="6.70" fill="#808080"/>
<circle cx="767.2" cy="716.5" r="6.60" fill="#000"/>
<circle cx="767.2" cy="748" r="6.60" fill="#000"/>
<circle cx="767.2" cy="759.8" r="6.60" fill="#000"/>
<circle cx="767.2" cy="773.2" r="6.60" fill="#000"/>
<circle cx="767.2" cy="781.7" r="6.60" fill="#000"/>
<rect x="691.65" y="718.65" width="40.70" height="6.90" fill="#fff" stroke="#b0b0b0" stroke-width="1.3"/>
<rect x="719.70" y="735.30" width="39.30" height="7.30" fill="#808080" stroke="#606060" stroke-width="1"/>
<rect x="747.00" y="747.10" width="40.40" height="7.70" fill="#000"/>
<text transform="translate(723.95,673.40) scale(0.9700,1)" font-size="22.50" font-weight="normal" font-style="normal" fill="#0d0d0d">0.7</text>
<text transform="translate(750.98,693.20) scale(0.9700,1)" font-size="22.50" font-weight="normal" font-style="normal" fill="#0d0d0d">0.6</text>
<text transform="translate(237.47,862.60) scale(0.9700,1)" font-size="26.30" font-weight="bold" font-style="normal" fill="#000">3</text>
<text transform="translate(403.92,862.00) scale(0.9700,1)" font-size="26.30" font-weight="bold" font-style="normal" fill="#000">7</text>
<text transform="translate(563.36,862.40) scale(0.9700,1)" font-size="26.30" font-weight="bold" font-style="normal" fill="#000">11</text>
<text transform="translate(728.98,862.40) scale(0.9700,1)" font-size="26.30" font-weight="bold" font-style="normal" fill="#000">46</text>
<path d="M143.6,1050.8 H151.3 V1385.0 H143.6" fill="none" stroke="#000" stroke-width="3.5" stroke-linejoin="bevel"/>
<line x1="143.6" y1="1134.4" x2="151.3" y2="1134.4" stroke="#000" stroke-width="3.5"/>
<line x1="143.6" y1="1217.9" x2="151.3" y2="1217.9" stroke="#000" stroke-width="3.5"/>
<line x1="143.6" y1="1301.5" x2="151.3" y2="1301.5" stroke="#000" stroke-width="3.5"/>
<text transform="translate(115.13,1058.77) scale(0.9944,1)" font-size="23.16" font-weight="bold" font-style="normal" fill="#000">1</text>
<text transform="translate(95.92,1142.37) scale(0.9944,1)" font-size="23.16" font-weight="bold" font-style="normal" fill="#000">0.1</text>
<text transform="translate(83.11,1225.87) scale(0.9944,1)" font-size="23.16" font-weight="bold" font-style="normal" fill="#000">0.01</text>
<text transform="translate(70.30,1309.47) scale(0.9944,1)" font-size="23.16" font-weight="bold" font-style="normal" fill="#000">0.001</text>
<text transform="translate(57.49,1392.97) scale(0.9944,1)" font-size="23.16" font-weight="bold" font-style="normal" fill="#000">0.0001</text>
<circle cx="227.9" cy="1202.6" r="6.30" fill="none" stroke="#000000" stroke-opacity="0.5" stroke-width="1.4"/>
<circle cx="227.9" cy="1225.7" r="6.30" fill="none" stroke="#000000" stroke-opacity="0.5" stroke-width="1.4"/>
<circle cx="227.9" cy="1235.1" r="6.30" fill="none" stroke="#000000" stroke-opacity="0.5" stroke-width="1.4"/>
<circle cx="227.9" cy="1242.8" r="6.30" fill="none" stroke="#000000" stroke-opacity="0.5" stroke-width="1.4"/>
<circle cx="227.9" cy="1253.1" r="6.30" fill="none" stroke="#000000" stroke-opacity="0.5" stroke-width="1.4"/>
<circle cx="227.9" cy="1266.8" r="6.30" fill="none" stroke="#000000" stroke-opacity="0.5" stroke-width="1.4"/>
<circle cx="265.7" cy="1181.2" r="6.35" fill="#808080"/>
<circle cx="265.7" cy="1184.6" r="6.35" fill="#808080"/>
<circle cx="265.7" cy="1205.2" r="6.35" fill="#808080"/>
<circle cx="265.7" cy="1229.1" r="6.35" fill="#808080"/>
<circle cx="304" cy="1086.2" r="6.10" fill="#000"/>
<circle cx="304" cy="1109.3" r="6.10" fill="#000"/>
<circle cx="304" cy="1123.9" r="6.10" fill="#000"/>
<circle cx="304" cy="1134.5" r="6.10" fill="#000"/>
<circle cx="304" cy="1152.1" r="6.10" fill="#000"/>
<rect x="208.35" y="1228.35" width="37.90" height="7.60" fill="#fff" stroke="#cfcfcf" stroke-width="1.3"/>
<rect x="246.80" y="1191.60" width="37.60" height="7.80" fill="#808080" stroke="#606060" stroke-width="1"/>
<rect x="285.00" y="1110.60" width="37.90" height="8.50" fill="#000"/>
<text transform="translate(277.14,1062.70) scale(0.9700,1)" font-size="22.50" font-weight="normal" font-style="normal" fill="#0d0d0d">25.0</text>
<text transform="translate(249.13,1163.70) scale(0.9700,1)" font-size="22.50" font-weight="normal" font-style="normal" fill="#0d0d0d">2.7</text>
<circle cx="456.3" cy="1190" r="6.30" fill="none" stroke="#000000" stroke-opacity="0.5" stroke-width="1.4"/>
<circle cx="456.3" cy="1196" r="6.30" fill="none" stroke="#000000" stroke-opacity="0.5" stroke-width="1.4"/>
<circle cx="456.3" cy="1207.9" r="6.30" fill="none" stroke="#000000" stroke-opacity="0.5" stroke-width="1.4"/>
<circle cx="456.3" cy="1221.9" r="6.30" fill="none" stroke="#000000" stroke-opacity="0.5" stroke-width="1.4"/>
<circle cx="456.3" cy="1253.4" r="6.30" fill="none" stroke="#000000" stroke-opacity="0.5" stroke-width="1.4"/>
<circle cx="494.5" cy="1226.1" r="6.35" fill="#808080"/>
<circle cx="494.5" cy="1255.2" r="6.35" fill="#808080"/>
<circle cx="532.5" cy="1124.3" r="6.10" fill="#000"/>
<circle cx="532.5" cy="1133.3" r="6.10" fill="#000"/>
<circle cx="532.5" cy="1150.9" r="6.10" fill="#000"/>
<circle cx="532.5" cy="1161.8" r="6.10" fill="#000"/>
<circle cx="532.5" cy="1166.1" r="6.10" fill="#000"/>
<rect x="437.35" y="1205.35" width="38.10" height="7.10" fill="#fff" stroke="#cfcfcf" stroke-width="1.3"/>
<rect x="475.20" y="1234.50" width="37.80" height="7.00" fill="#808080" stroke="#606060" stroke-width="1"/>
<rect x="513.30" y="1139.90" width="37.80" height="7.60" fill="#000"/>
<text transform="translate(515.30,1105.70) scale(0.9700,1)" font-size="22.50" font-weight="normal" font-style="normal" fill="#0d0d0d">6.0</text>
<text transform="translate(476.52,1189.10) scale(0.9700,1)" font-size="22.50" font-weight="normal" font-style="normal" fill="#0d0d0d">0.4</text>
<circle cx="684.8" cy="1149.4" r="6.30" fill="none" stroke="#000000" stroke-opacity="0.5" stroke-width="1.4"/>
<circle cx="684.8" cy="1157.9" r="6.30" fill="none" stroke="#000000" stroke-opacity="0.5" stroke-width="1.4"/>
<circle cx="684.8" cy="1160.6" r="6.30" fill="none" stroke="#000000" stroke-opacity="0.5" stroke-width="1.4"/>
<circle cx="684.8" cy="1162.7" r="6.30" fill="none" stroke="#000000" stroke-opacity="0.5" stroke-width="1.4"/>
<circle cx="684.8" cy="1181" r="6.30" fill="none" stroke="#000000" stroke-opacity="0.5" stroke-width="1.4"/>
<circle cx="684.8" cy="1194.5" r="6.30" fill="none" stroke="#000000" stroke-opacity="0.5" stroke-width="1.4"/>
<circle cx="684.8" cy="1254.1" r="6.30" fill="none" stroke="#000000" stroke-opacity="0.5" stroke-width="1.4"/>
<circle cx="722.9" cy="1136.2" r="6.35" fill="#808080"/>
<circle cx="722.9" cy="1151.6" r="6.35" fill="#808080"/>
<circle cx="722.9" cy="1172.2" r="6.35" fill="#808080"/>
<circle cx="722.9" cy="1191.4" r="6.35" fill="#808080"/>
<circle cx="722.9" cy="1195.5" r="6.35" fill="#808080"/>
<circle cx="761.1" cy="1125.4" r="6.10" fill="#000"/>
<circle cx="761.1" cy="1133" r="6.10" fill="#000"/>
<circle cx="761.1" cy="1141.7" r="6.10" fill="#000"/>
<circle cx="761.1" cy="1175.9" r="6.10" fill="#000"/>
<rect x="666.05" y="1168.15" width="37.00" height="6.90" fill="#fff" stroke="#cfcfcf" stroke-width="1.3"/>
<rect x="704.30" y="1158.40" width="36.70" height="7.10" fill="#808080" stroke="#606060" stroke-width="1"/>
<rect x="742.40" y="1133.10" width="37.00" height="7.60" fill="#000"/>
<text transform="translate(706.28,1121.70) scale(0.9700,1)" font-size="22.50" font-weight="normal" font-style="normal" fill="#0d0d0d">1.3</text>
<text transform="translate(751.26,1105.50) scale(0.9700,1)" font-size="22.50" font-weight="normal" font-style="normal" fill="#0d0d0d">2.6</text>
<text transform="translate(258.57,1384.00) scale(0.9700,1)" font-size="26.30" font-weight="bold" font-style="normal" fill="#000">3</text>
<text transform="translate(492.32,1383.10) scale(0.9700,1)" font-size="26.30" font-weight="bold" font-style="normal" fill="#000">7</text>
<text transform="translate(707.96,1385.00) scale(0.9700,1)" font-size="26.30" font-weight="bold" font-style="normal" fill="#000">11</text>
<text transform="translate(17.34,61.10) scale(0.9852,1)" font-size="31.20" font-weight="bold" font-style="normal" fill="#000">B Head kidney</text>
<text transform="translate(17.77,100.90) scale(1.0055,1)" font-size="32.00" font-weight="normal" font-style="italic" fill="#000">mx</text>
<text transform="translate(792.98,94.70) scale(0.9435,1)" font-size="33.00" font-weight="normal" font-style="italic" fill="#000">cd8</text>
<text transform="translate(18.04,496.40) scale(0.9974,1)" font-size="33.00" font-weight="normal" font-style="italic" fill="#000">gip</text>
<text transform="translate(17.20,945.80) scale(0.9214,1)" font-size="31.80" font-weight="bold" font-style="normal" fill="#000">C Blood cells</text>
<text transform="translate(18.18,1018.50) scale(1.0188,1)" font-size="31.00" font-weight="normal" font-style="italic" fill="#000">mx</text>
<path d="M1168.2,1007.6 V654" fill="none" stroke="#000" stroke-width="5.6"/>
<path d="M1165.4,1004.8 H1374" fill="none" stroke="#000" stroke-width="5.6"/>
<polygon points="1168.3,640.2 1159.5,657.5 1177,657.5" fill="#000"/>
<polygon points="1388.6,1004.8 1371.8,995.8 1371.8,1013.6" fill="#000"/>
<text transform="translate(1058.90,979.77) rotate(-90) scale(0.9375,1)" font-size="42.50" font-weight="bold" font-style="normal" fill="#000">Expression level</text>
<text transform="translate(1127.40,960.95) rotate(-90) scale(0.9466,1)" font-size="42.50" font-weight="bold" font-style="normal" fill="#000">relative to ELF</text>
<text transform="translate(1232.66,1073.60) scale(0.9290,1)" font-size="36.00" font-weight="bold" font-style="normal" fill="#000">DPV</text>
<circle cx="1034.9" cy="1183.7" r="6.6" fill="#fff" stroke="#3a3a3a" stroke-width="2"/>
<text transform="translate(1063.59,1197.90) scale(0.8381,1)" font-size="46.50" font-weight="bold" font-style="normal" fill="#000">PBS</text>
<circle cx="1178.9" cy="1183.7" r="6.8" fill="#808080"/>
<text transform="translate(1207.43,1197.90) scale(1.0019,1)" font-size="46.50" font-weight="bold" font-style="normal" fill="#000">3.1H</text>
<circle cx="1339.3" cy="1184.2" r="7" fill="#000"/>
<text transform="translate(1367.24,1197.90) scale(0.9663,1)" font-size="46.50" font-weight="bold" font-style="normal" fill="#000">ppG</text>
</g>
</svg></div>
</body></html>
